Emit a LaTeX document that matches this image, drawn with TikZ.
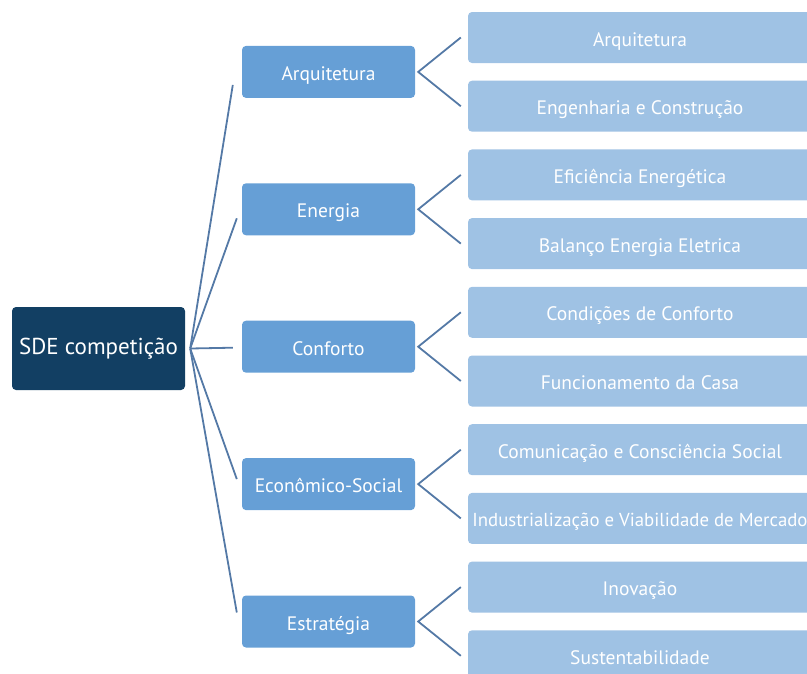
\documentclass[tikz,border=0pt]{standalone}
\usepackage{fontspec}
\setmainfont{PT Sans}
\usetikzlibrary{calc}
\definecolor{rootblue}{RGB}{18,63,99}
\definecolor{midblue}{RGB}{102,159,214}
\definecolor{leafblue}{RGB}{159,194,228}
\definecolor{linkblue}{RGB}{84,121,166}

\tikzset{
  rootbox/.style={fill=rootblue, text=white, rounded corners=4pt, inner sep=0pt,
    minimum width=173pt, minimum height=83pt, font=\fontsize{23}{27}\selectfont},
  midbox/.style={fill=midblue, text=white, rounded corners=4pt, inner sep=0pt,
    minimum width=173pt, minimum height=52pt, font=\fontsize{19.5}{23}\selectfont,
    text height=17pt, text depth=0pt},
  leafbox/.style={fill=leafblue, text=white, rounded corners=4pt, inner sep=0pt,
    minimum width=344pt, minimum height=51pt, font=\fontsize{19.5}{23}\selectfont,
    text height=17pt, text depth=0pt},
  link/.style={draw=linkblue, line width=1.8pt}
}

\begin{document}
\begin{tikzpicture}[x=1pt,y=-1pt]
  \useasboundingbox (0,0) rectangle (807,673);
  \clip (0,0) rectangle (807,673);

  %--- root ---
  \node[rootbox] (root) at (98.5,348.5) {SDE competição};
  \coordinate (hub) at ($(root.east)+(5,0)$);

  %--- Branch 1: Arquitetura ---
  \node[midbox] (arq) at (328.5,71.9) {Arquitetura};
  \node[leafbox] (arqA) at (640,37.5) {Arquitetura};
  \node[leafbox] (arqB) at (640,106.2) {Engenharia e Construção};

  %--- Branch 2: Energia ---
  \node[midbox] (ene) at (328.5,209.3) {Energia};
  \node[leafbox] (eneA) at (640,174.9) {Eficiência Energética};
  \node[leafbox] (eneB) at (640,243.6) {Balanço Energia Eletrica};

  %--- Branch 3: Conforto ---
  \node[midbox] (con) at (328.5,346.7) {Conforto};
  \node[leafbox] (conA) at (640,312.3) {Condições de Conforto};
  \node[leafbox] (conB) at (640,381) {Funcionamento da Casa};

  %--- Branch 4: Econômico-Social ---
  \node[midbox] (eco) at (328.5,484.1) {Econômico-Social};
  \node[leafbox] (ecoA) at (640,449.7) {Comunicação e Consciência Social};
  \node[leafbox, font=\fontsize{18.8}{22}\selectfont] (ecoB) at (640,518.4)
    {Industrialização e Viabilidade de Mercado};

  %--- Branch 5: Estratégia ---
  \node[midbox] (est) at (328.5,621.5) {Estratégia};
  \node[leafbox] (estA) at (640,587.1) {Inovação};
  \node[leafbox] (estB) at (640,655.8) {Sustentabilidade};

  %--- root links ---
  \coordinate (arqIn) at ($(arq.west)+(-9,13)$);
  \coordinate (eneIn) at ($(ene.west)+(-5,9)$);
  \coordinate (conIn) at ($(con.west)+(-9,1)$);
  \coordinate (ecoIn) at ($(eco.west)+(-5,-5)$);
  \coordinate (estIn) at ($(est.west)+(-5,-9)$);
  \draw[link] (hub) -- (arqIn);
  \draw[link] (hub) -- (eneIn);
  \draw[link] (hub) -- (conIn);
  \draw[link] (hub) -- (ecoIn);
  \draw[link] (hub) -- (estIn);

  %--- branch links ---
  \draw[link] ($(arqA.west)+(-7,0)$) -- ($(arq.east)+(3,0)$) -- ($(arqB.west)+(-7,0)$);
  \draw[link] ($(eneA.west)+(-7,0)$) -- ($(ene.east)+(3,0)$) -- ($(eneB.west)+(-7,0)$);
  \draw[link] ($(conA.west)+(-7,0)$) -- ($(con.east)+(3,0)$) -- ($(conB.west)+(-7,0)$);
  \draw[link] ($(ecoA.west)+(-7,0)$) -- ($(eco.east)+(3,0)$) -- ($(ecoB.west)+(-7,0)$);
  \draw[link] ($(estA.west)+(-7,0)$) -- ($(est.east)+(3,0)$) -- ($(estB.west)+(-7,0)$);

\end{tikzpicture}
\end{document}
